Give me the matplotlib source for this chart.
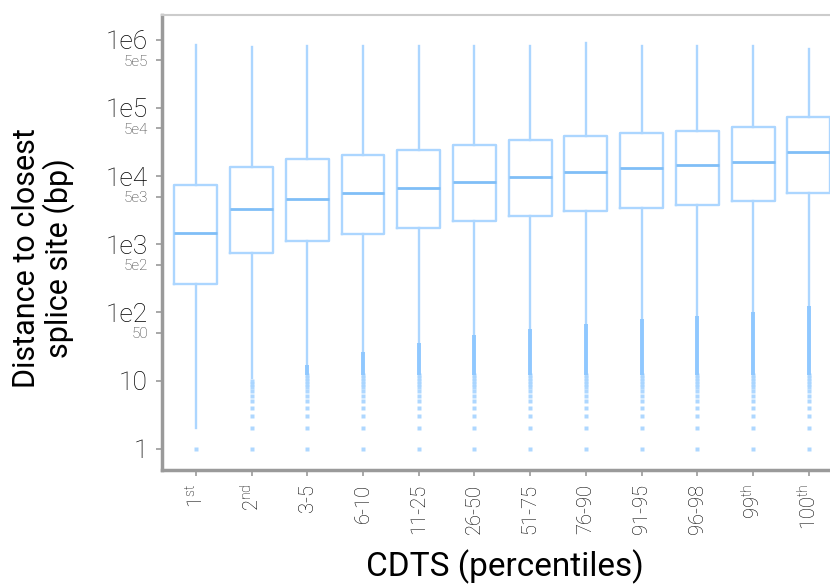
import numpy as np
import matplotlib
matplotlib.use("Agg")
import matplotlib.pyplot as plt
from matplotlib.ticker import FixedLocator, NullFormatter

plt.rcParams['font.family'] = ['Roboto', 'DejaVu Sans']
plt.rcParams['font.weight'] = 'light'
plt.rcParams['mathtext.fontset'] = 'custom'
plt.rcParams['mathtext.rm'] = 'Roboto:light'

# CDTS percentile bins
labels = ['1$^{\\mathrm{st}}$', '2$^{\\mathrm{nd}}$', '3-5', '6-10', '11-25', '26-50', '51-75',
          '76-90', '91-95', '96-98', '99$^{\\mathrm{th}}$', '100$^{\\mathrm{th}}$']

# box statistics (bp)
q1 = [263, 748, 1120, 1420, 1740, 2200, 2610, 3090, 3420, 3790, 4330, 5670]
med = [1470, 3300, 4630, 5670, 6710, 8220, 9730, 11500, 13200, 14600, 16100, 22600]
q3 = [7430, 13600, 17900, 20500, 24200, 28700, 34000, 38800, 43000, 46000, 52600, 73800]
whis_hi = [840000, 780000, 800000, 800000, 800000, 800000, 820000, 890000,
           800000, 800000, 800000, 730000]
whis_lo = [2, 11, 17, 26, 36, 47, 57, 68, 80, 89, 101, 125]

# visible single outliers and the dense outlier band just under each whisker
fliers = [
    [1],
    [1, 2, 3, 4, 5, 6, 7, 8, 9, 10],
    [1, 2, 3, 4, 5, 6, 7, 8, 9, 10, 11, 12],
    [1, 2, 3, 4, 5, 6, 7, 8, 9, 10, 11, 12],
    [1, 2, 3, 4, 5, 6, 7, 8, 9, 10, 11, 12],
    [1, 2, 3, 4, 5, 6, 7, 8, 9, 10, 11, 12],
    [1, 2, 3, 4, 5, 6, 7, 8, 9, 10, 11, 12],
    [1, 2, 3, 4, 5, 6, 7, 8, 9, 10, 11, 12],
    [1, 2, 3, 4, 5, 6, 7, 8, 9, 10, 11, 12],
    [1, 2, 3, 4, 5, 6, 7, 8, 9, 10, 11, 12],
    [1, 2, 3, 4, 5, 6, 7, 8, 9, 10, 11, 12],
    [1, 2, 3, 4, 5, 6, 7, 8, 9, 10, 11, 12],
]
band_lo = [None, None, 12, 12, 12, 12, 12, 12, 12, 12, 12, 12]

major_ticks = [1, 10, 100, 1000, 10000, 100000, 1000000]
major_labels = ['1', '10', '1e2', '1e3', '1e4', '1e5', '1e6']
minor_ticks = [50, 500, 5000, 50000, 500000]
minor_labels = ['50', '5e2', '5e3', '5e4', '5e5']

light = '#acd6ff'
mid = '#80bef7'

fig = plt.figure(figsize=(8.3, 5.88), dpi=100)
ax = fig.add_axes([0.195, 0.2007, 0.805, 0.7738])

stats = []
for i in range(len(labels)):
    stats.append(dict(med=med[i], q1=q1[i], q3=q3[i], whislo=whis_lo[i],
                      whishi=whis_hi[i], fliers=fliers[i]))

pos = np.arange(len(labels))
ax.bxp(stats, positions=pos, widths=0.77, showcaps=False,
       boxprops=dict(color=light, linewidth=1.7),
       whiskerprops=dict(color=light, linewidth=1.7),
       medianprops=dict(color=mid, linewidth=2),
       flierprops=dict(marker='s', markersize=2.6, markerfacecolor='#a5d3ff',
                       markeredgecolor='none', alpha=0.9))

for i in range(len(labels)):
    if band_lo[i] is not None:
        ax.vlines(pos[i], band_lo[i], whis_lo[i], color='#8fc8ff', linewidth=2.8)

ax.set_yscale('log')
ax.set_ylim(0.49, 2.3e6)
ax.set_xlim(-0.61, 11.38)

ax.yaxis.set_major_locator(FixedLocator(major_ticks))
ax.set_yticklabels(major_labels, fontsize=19, color='#000000')
ax.yaxis.set_minor_locator(FixedLocator(minor_ticks))
ax.yaxis.set_minor_formatter(NullFormatter())
ax.set_yticks(minor_ticks, minor_labels, minor=True, fontsize=11, color='#333333')
ax.tick_params(axis='y', which='major', length=4, width=1.2, color='#999999', pad=6)
ax.tick_params(axis='y', which='minor', length=4, width=1.2, color='#999999', pad=6)

ax.set_xticks(pos)
ax.set_xticklabels(labels, rotation=90, fontsize=14.5, color='#000000')
ax.tick_params(axis='x', length=4, width=1.2, color='#999999', pad=6)

ax.spines['left'].set_color('#9a9a9a')
ax.spines['left'].set_linewidth(2.5)
ax.spines['bottom'].set_color('#9a9a9a')
ax.spines['bottom'].set_linewidth(2.5)
ax.spines['top'].set_color('#cccccc')
ax.spines['top'].set_linewidth(1.5)
ax.spines['right'].set_visible(False)

ax.set_ylabel('Distance to closest\nsplice site (bp)', fontsize=22, color='#000000',
              linespacing=1.05, labelpad=22)
ax.yaxis.label.set_y(0.466)
ax.set_xlabel('CDTS (percentiles)', fontsize=24, color='#000000', labelpad=11)
ax.xaxis.label.set_x(0.513)

fig.savefig('out.png', dpi=100)
